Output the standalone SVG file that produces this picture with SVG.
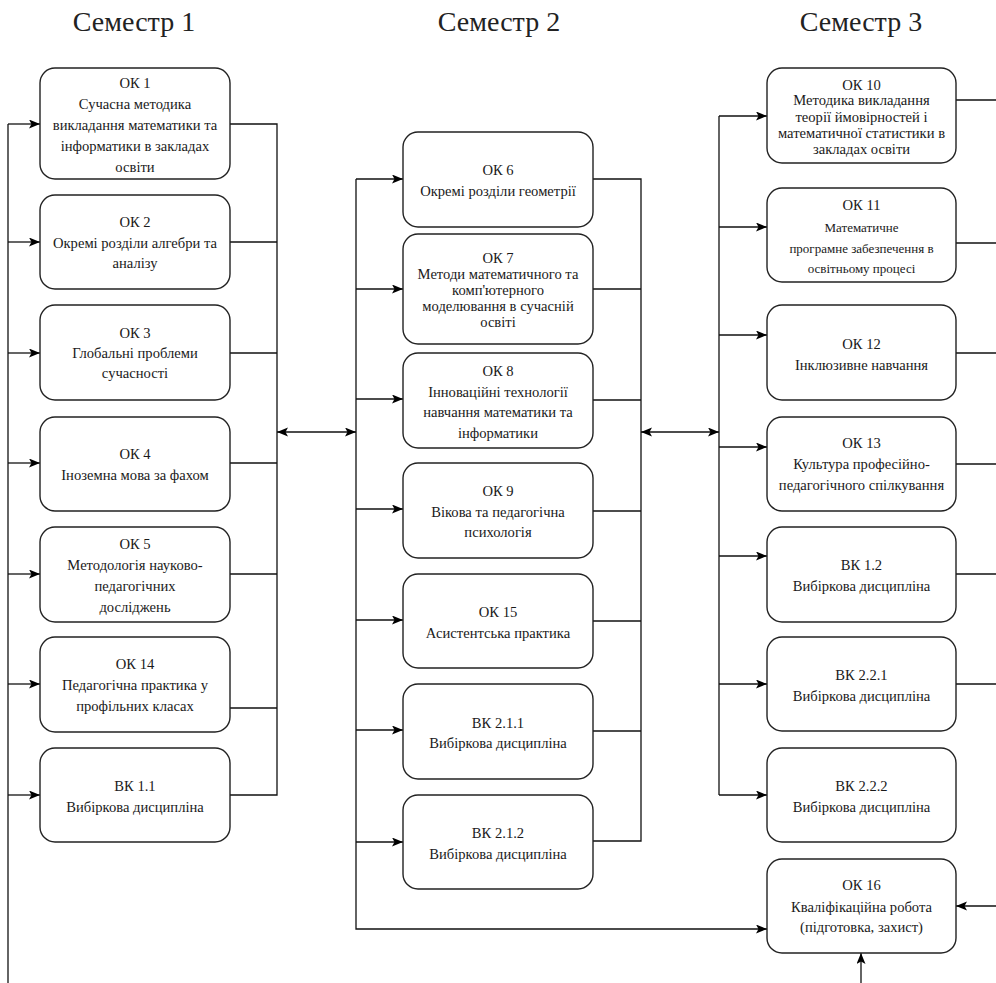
<svg xmlns="http://www.w3.org/2000/svg" width="996" height="983" viewBox="0 0 996 983">
<defs>
<marker id="ah" markerUnits="userSpaceOnUse" markerWidth="12" markerHeight="10" refX="11" refY="4.5" orient="auto-start-reverse">
<path d="M0,0 L11,4.5 L0,9 L2.5,4.5 Z" fill="#000"/>
</marker>
<style>
.box{fill:#fff;stroke:#222;stroke-width:1.4}
.t{font-family:'Liberation Serif','Times New Roman',serif;font-size:14.6px;fill:#1a1a1a;text-anchor:middle}
.s{font-size:13px}
.h{font-family:'Liberation Serif','Times New Roman',serif;font-size:28px;fill:#222;text-anchor:middle}
.c{fill:none;stroke:#111;stroke-width:1.3}
.a{marker-end:url(#ah)}
.d{marker-start:url(#ah);marker-end:url(#ah)}
</style>
</defs>
<rect width="996" height="983" fill="#fff"/>

<g id="titles">
<text class="h" x="134" y="31">Семестр 1</text>
<text class="h" x="499" y="31">Семестр 2</text>
<text class="h" x="861" y="31">Семестр 3</text>
</g>

<g id="connectors">
<path class="c" d="M8,983 V124"/>
<path class="c a" d="M8,124 H40"/>
<path class="c a" d="M8,242 H40"/>
<path class="c a" d="M8,353 H40"/>
<path class="c a" d="M8,463 H40"/>
<path class="c a" d="M8,574 H40"/>
<path class="c a" d="M8,684 H40"/>
<path class="c a" d="M8,795 H40"/>
<path class="c" d="M230,124 H277 V795 H230"/>
<path class="c" d="M230,242 H277"/>
<path class="c" d="M230,353 H277"/>
<path class="c" d="M230,463 H277"/>
<path class="c" d="M230,574 H277"/>
<path class="c" d="M230,708 H277"/>
<path class="c d" d="M277,432 H356"/>
<path class="c a" d="M356,179 V929 H767"/>
<path class="c a" d="M356,179 H403"/>
<path class="c a" d="M356,289 H403"/>
<path class="c a" d="M356,399 H403"/>
<path class="c a" d="M356,509 H403"/>
<path class="c a" d="M356,620 H403"/>
<path class="c a" d="M356,730 H403"/>
<path class="c a" d="M356,842 H403"/>
<path class="c" d="M593,179 H641 V841 H593"/>
<path class="c" d="M593,289 H641"/>
<path class="c" d="M593,400 H641"/>
<path class="c" d="M593,511 H641"/>
<path class="c" d="M593,621 H641"/>
<path class="c" d="M593,731 H641"/>
<path class="c d" d="M641,432 H719"/>
<path class="c" d="M719,116 V795"/>
<path class="c a" d="M719,116 H767"/>
<path class="c a" d="M719,227 H767"/>
<path class="c a" d="M719,335 H767"/>
<path class="c a" d="M719,447 H767"/>
<path class="c a" d="M719,556 H767"/>
<path class="c a" d="M719,684 H767"/>
<path class="c a" d="M719,795 H767"/>
<path class="c" d="M956,100 H996"/>
<path class="c" d="M956,243 H996"/>
<path class="c" d="M956,353 H996"/>
<path class="c" d="M956,464 H996"/>
<path class="c" d="M956,574 H996"/>
<path class="c" d="M956,684 H996"/>
<path class="c a" d="M996,906 H956"/>
<path class="c a" d="M861,983 V953"/>
</g>

<g id="ok1"><rect class="box" x="40" y="68" width="190" height="111" rx="15"/>
<text class="t"><tspan x="135" y="88">ОК 1</tspan><tspan x="135" y="109">Сучасна методика</tspan><tspan x="135" y="130">викладання математики та</tspan><tspan x="135" y="151">інформатики в закладах</tspan><tspan x="135" y="172">освіти</tspan></text></g>
<g id="ok2"><rect class="box" x="40" y="195" width="190" height="94" rx="15"/>
<text class="t"><tspan x="135" y="227">ОК 2</tspan><tspan x="135" y="248">Окремі розділи алгебри та</tspan><tspan x="135" y="268">аналізу</tspan></text></g>
<g id="ok3"><rect class="box" x="40" y="305" width="190" height="95" rx="15"/>
<text class="t"><tspan x="135" y="338">ОК 3</tspan><tspan x="135" y="358">Глобальні проблеми</tspan><tspan x="135" y="378">сучасності</tspan></text></g>
<g id="ok4"><rect class="box" x="40" y="417" width="190" height="94" rx="15"/>
<text class="t"><tspan x="135" y="459">ОК 4</tspan><tspan x="135" y="480">Іноземна мова за фахом</tspan></text></g>
<g id="ok5"><rect class="box" x="40" y="527" width="190" height="95" rx="15"/>
<text class="t"><tspan x="135" y="549">ОК 5</tspan><tspan x="135" y="570">Методологія науково-</tspan><tspan x="135" y="591">педагогічних</tspan><tspan x="135" y="612">досліджень</tspan></text></g>
<g id="ok14"><rect class="box" x="40" y="637" width="190" height="95" rx="15"/>
<text class="t"><tspan x="135" y="669">ОК 14</tspan><tspan x="135" y="690">Педагогічна практика у</tspan><tspan x="135" y="711">профільних класах</tspan></text></g>
<g id="vk11"><rect class="box" x="40" y="748" width="190" height="94" rx="15"/>
<text class="t"><tspan x="135" y="791">ВК 1.1</tspan><tspan x="135" y="812">Вибіркова дисципліна</tspan></text></g>

<g id="ok6"><rect class="box" x="403" y="132" width="190" height="95" rx="15"/>
<text class="t"><tspan x="498" y="175">ОК 6</tspan><tspan x="498" y="196">Окремі розділи геометрії</tspan></text></g>
<g id="ok7"><rect class="box" x="403" y="234" width="190" height="110" rx="15"/>
<text class="t"><tspan x="498" y="263">ОК 7</tspan><tspan x="498" y="279">Методи математичного та</tspan><tspan x="498" y="295">комп'ютерного</tspan><tspan x="498" y="311">моделювання в сучасній</tspan><tspan x="498" y="327">освіті</tspan></text></g>
<g id="ok8"><rect class="box" x="403" y="353" width="190" height="95" rx="15"/>
<text class="t"><tspan x="498" y="376">ОК 8</tspan><tspan x="498" y="397">Інноваційні технології</tspan><tspan x="498" y="417">навчання математики та</tspan><tspan x="498" y="438">інформатики</tspan></text></g>
<g id="ok9"><rect class="box" x="403" y="463" width="190" height="95" rx="15"/>
<text class="t"><tspan x="498" y="496">ОК 9</tspan><tspan x="498" y="517">Вікова та педагогічна</tspan><tspan x="498" y="537">психологія</tspan></text></g>
<g id="ok15"><rect class="box" x="403" y="574" width="190" height="94" rx="15"/>
<text class="t"><tspan x="498" y="617">ОК 15</tspan><tspan x="498" y="638">Асистентська практика</tspan></text></g>
<g id="vk211"><rect class="box" x="403" y="684" width="190" height="95" rx="15"/>
<text class="t"><tspan x="498" y="728">ВК 2.1.1</tspan><tspan x="498" y="748">Вибіркова дисципліна</tspan></text></g>
<g id="vk212"><rect class="box" x="403" y="795" width="190" height="94" rx="15"/>
<text class="t"><tspan x="498" y="838">ВК 2.1.2</tspan><tspan x="498" y="859">Вибіркова дисципліна</tspan></text></g>

<g id="ok10"><rect class="box" x="767" y="68" width="189" height="95" rx="15"/>
<text class="t"><tspan x="861.5" y="90">ОК 10</tspan><tspan x="861.5" y="105">Методика викладання</tspan><tspan x="861.5" y="122">теорії ймовірностей і</tspan><tspan x="861.5" y="138">математичної статистики в</tspan><tspan x="861.5" y="154">закладах освіти</tspan></text></g>
<g id="ok11"><rect class="box" x="767" y="188" width="189" height="94" rx="15"/>
<text class="t"><tspan x="861.5" y="210">ОК 11</tspan><tspan class="s" x="861.5" y="232">Математичне</tspan><tspan class="s" x="861.5" y="253">програмне забезпечення в</tspan><tspan class="s" x="861.5" y="273">освітньому процесі</tspan></text></g>
<g id="ok12"><rect class="box" x="767" y="305" width="189" height="95" rx="15"/>
<text class="t"><tspan x="861.5" y="349">ОК 12</tspan><tspan x="861.5" y="370">Інклюзивне навчання</tspan></text></g>
<g id="ok13"><rect class="box" x="767" y="417" width="189" height="94" rx="15"/>
<text class="t"><tspan x="861.5" y="448">ОК 13</tspan><tspan x="861.5" y="469">Культура професійно-</tspan><tspan x="861.5" y="490">педагогічного спілкування</tspan></text></g>
<g id="vk12"><rect class="box" x="767" y="527" width="189" height="95" rx="15"/>
<text class="t"><tspan x="861.5" y="570">ВК 1.2</tspan><tspan x="861.5" y="591">Вибіркова дисципліна</tspan></text></g>
<g id="vk221"><rect class="box" x="767" y="637" width="189" height="94" rx="15"/>
<text class="t"><tspan x="861.5" y="680">ВК 2.2.1</tspan><tspan x="861.5" y="701">Вибіркова дисципліна</tspan></text></g>
<g id="vk222"><rect class="box" x="767" y="748" width="189" height="94" rx="15"/>
<text class="t"><tspan x="861.5" y="791">ВК 2.2.2</tspan><tspan x="861.5" y="812">Вибіркова дисципліна</tspan></text></g>
<g id="ok16"><rect class="box" x="767" y="859" width="189" height="94" rx="15"/>
<text class="t"><tspan x="861.5" y="890">ОК 16</tspan><tspan x="861.5" y="912">Кваліфікаційна робота</tspan><tspan x="861.5" y="932">(підготовка, захист)</tspan></text></g>
</svg>
